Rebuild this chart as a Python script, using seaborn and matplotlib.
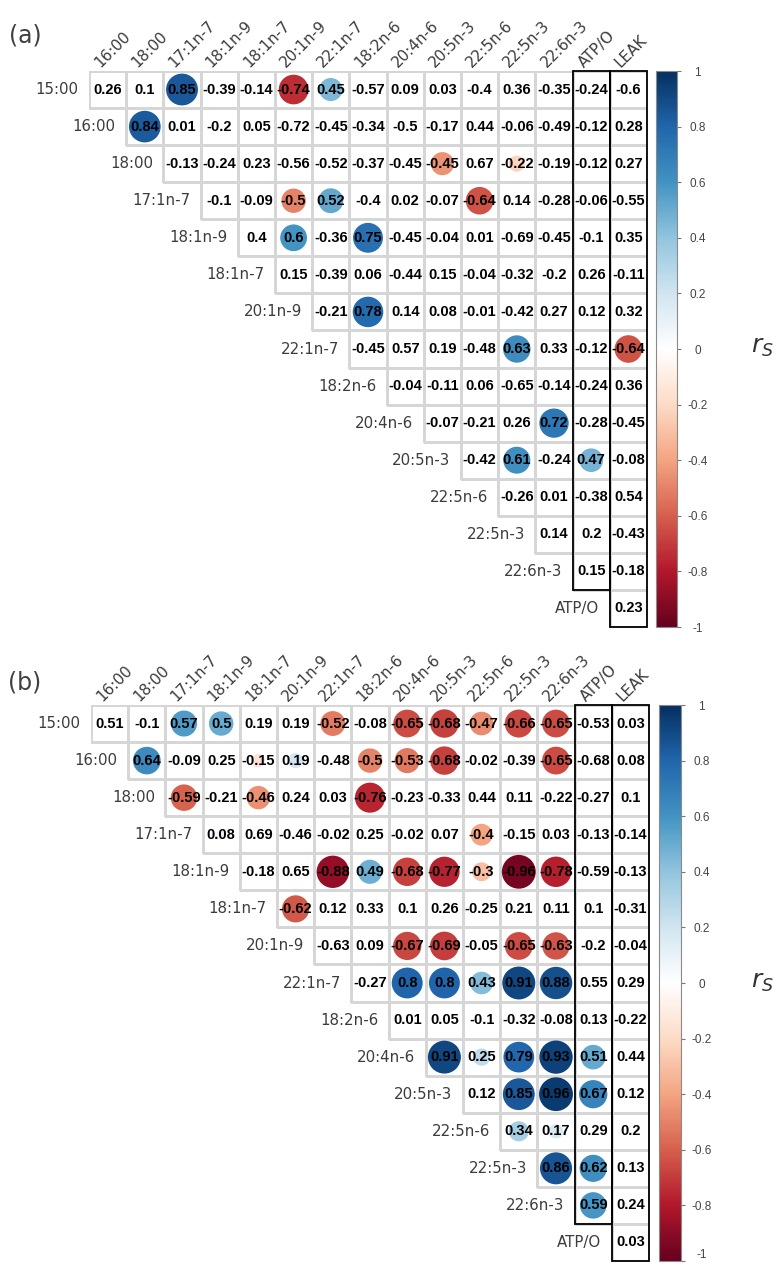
import numpy as np
import pandas as pd
import seaborn as sns
import matplotlib
matplotlib.use("Agg")
import matplotlib.pyplot as plt
from matplotlib.colors import LinearSegmentedColormap, ListedColormap, Normalize, to_rgba
from matplotlib.patches import Circle, Rectangle
from matplotlib.cm import ScalarMappable

# ---------------- data ----------------
row_labels = ["15:00", "16:00", "18:00", "17:1n-7", "18:1n-9", "18:1n-7", "20:1n-9",
              "22:1n-7", "18:2n-6", "20:4n-6", "20:5n-3", "22:5n-6", "22:5n-3",
              "22:6n-3", "ATP/O"]
col_labels = ["16:00", "18:00", "17:1n-7", "18:1n-9", "18:1n-7", "20:1n-9", "22:1n-7",
              "18:2n-6", "20:4n-6", "20:5n-3", "22:5n-6", "22:5n-3", "22:6n-3",
              "ATP/O", "LEAK"]
boxed_cols = ["ATP/O", "LEAK"]
cbar_ticks = [1, 0.8, 0.6, 0.4, 0.2, 0, -0.2, -0.4, -0.6, -0.8, -1]

# upper-triangle rows (row i starts at column i)
vals_a = [
    [0.26, 0.1, 0.85, -0.39, -0.14, -0.74, 0.45, -0.57, 0.09, 0.03, -0.4, 0.36, -0.35, -0.24, -0.6],
    [0.84, 0.01, -0.2, 0.05, -0.72, -0.45, -0.34, -0.5, -0.17, 0.44, -0.06, -0.49, -0.12, 0.28],
    [-0.13, -0.24, 0.23, -0.56, -0.52, -0.37, -0.45, -0.45, 0.67, -0.22, -0.19, -0.12, 0.27],
    [-0.1, -0.09, -0.5, 0.52, -0.4, 0.02, -0.07, -0.64, 0.14, -0.28, -0.06, -0.55],
    [0.4, 0.6, -0.36, 0.75, -0.45, -0.04, 0.01, -0.69, -0.45, -0.1, 0.35],
    [0.15, -0.39, 0.06, -0.44, 0.15, -0.04, -0.32, -0.2, 0.26, -0.11],
    [-0.21, 0.78, 0.14, 0.08, -0.01, -0.42, 0.27, 0.12, 0.32],
    [-0.45, 0.57, 0.19, -0.48, 0.63, 0.33, -0.12, -0.64],
    [-0.04, -0.11, 0.06, -0.65, -0.14, -0.24, 0.36],
    [-0.07, -0.21, 0.26, 0.72, -0.28, -0.45],
    [-0.42, 0.61, -0.24, 0.47, -0.08],
    [-0.26, 0.01, -0.38, 0.54],
    [0.14, 0.2, -0.43],
    [0.15, -0.18],
    [0.23],
]
sig_a = [
    ("15:00", "17:1n-7"), ("15:00", "20:1n-9"), ("15:00", "22:1n-7"),
    ("16:00", "18:00"),
    ("18:00", "20:5n-3"), ("18:00", "22:5n-3"),
    ("17:1n-7", "20:1n-9"), ("17:1n-7", "22:1n-7"), ("17:1n-7", "22:5n-6"),
    ("18:1n-9", "20:1n-9"), ("18:1n-9", "18:2n-6"),
    ("20:1n-9", "18:2n-6"),
    ("22:1n-7", "22:5n-3"), ("22:1n-7", "LEAK"),
    ("20:4n-6", "22:6n-3"),
    ("20:5n-3", "22:5n-3"), ("20:5n-3", "ATP/O"),
]

vals_b = [
    [0.51, -0.1, 0.57, 0.5, 0.19, 0.19, -0.52, -0.08, -0.65, -0.68, -0.47, -0.66, -0.65, -0.53, 0.03],
    [0.64, -0.09, 0.25, -0.15, 0.19, -0.48, -0.5, -0.53, -0.68, -0.02, -0.39, -0.65, -0.68, 0.08],
    [-0.59, -0.21, -0.46, 0.24, 0.03, -0.76, -0.23, -0.33, 0.44, 0.11, -0.22, -0.27, 0.1],
    [0.08, 0.69, -0.46, -0.02, 0.25, -0.02, 0.07, -0.4, -0.15, 0.03, -0.13, -0.14],
    [-0.18, 0.65, -0.88, 0.49, -0.68, -0.77, -0.3, -0.96, -0.78, -0.59, -0.13],
    [-0.62, 0.12, 0.33, 0.1, 0.26, -0.25, 0.21, 0.11, 0.1, -0.31],
    [-0.63, 0.09, -0.67, -0.69, -0.05, -0.65, -0.63, -0.2, -0.04],
    [-0.27, 0.8, 0.8, 0.43, 0.91, 0.88, 0.55, 0.29],
    [0.01, 0.05, -0.1, -0.32, -0.08, 0.13, -0.22],
    [0.91, 0.25, 0.79, 0.93, 0.51, 0.44],
    [0.12, 0.85, 0.96, 0.67, 0.12],
    [0.34, 0.17, 0.29, 0.2],
    [0.86, 0.62, 0.13],
    [0.59, 0.24],
    [0.03],
]
sig_b = [
    ("15:00", "17:1n-7"), ("15:00", "18:1n-9"), ("15:00", "22:1n-7"), ("15:00", "20:4n-6"),
    ("15:00", "20:5n-3"), ("15:00", "22:5n-6"), ("15:00", "22:5n-3"), ("15:00", "22:6n-3"),
    ("16:00", "18:00"), ("16:00", "18:1n-7"), ("16:00", "20:1n-9"), ("16:00", "18:2n-6"),
    ("16:00", "20:4n-6"), ("16:00", "20:5n-3"), ("16:00", "22:6n-3"),
    ("18:00", "17:1n-7"), ("18:00", "18:1n-7"), ("18:00", "18:2n-6"),
    ("17:1n-7", "18:1n-9"), ("17:1n-7", "22:5n-6"),
    ("18:1n-9", "22:1n-7"), ("18:1n-9", "18:2n-6"), ("18:1n-9", "20:4n-6"),
    ("18:1n-9", "20:5n-3"), ("18:1n-9", "22:5n-6"), ("18:1n-9", "22:5n-3"), ("18:1n-9", "22:6n-3"),
    ("18:1n-7", "20:1n-9"),
    ("20:1n-9", "20:4n-6"), ("20:1n-9", "20:5n-3"), ("20:1n-9", "22:5n-3"), ("20:1n-9", "22:6n-3"),
    ("22:1n-7", "20:4n-6"), ("22:1n-7", "20:5n-3"), ("22:1n-7", "22:5n-6"),
    ("22:1n-7", "22:5n-3"), ("22:1n-7", "22:6n-3"),
    ("20:4n-6", "20:5n-3"), ("20:4n-6", "22:5n-6"), ("20:4n-6", "22:5n-3"),
    ("20:4n-6", "22:6n-3"), ("20:4n-6", "ATP/O"),
    ("20:5n-3", "22:5n-3"), ("20:5n-3", "22:6n-3"), ("20:5n-3", "ATP/O"),
    ("22:5n-6", "22:5n-3"), ("22:5n-6", "22:6n-3"),
    ("22:5n-3", "22:6n-3"), ("22:5n-3", "ATP/O"),
    ("22:6n-3", "ATP/O"),
]

# ---------------- style ----------------
cmap = LinearSegmentedColormap.from_list(
    "corr_rdbu",
    ["#67001F", "#B2182B", "#D6604D", "#F4A582", "#FDDBC7", "#FFFFFF",
     "#D1E5F0", "#92C5DE", "#4393C3", "#2166AC", "#053061"], N=256)
norm = Normalize(vmin=-1, vmax=1)
LABEL_COLOR = "#3c3c3c"
GRID_COLOR = "#d6d6d6"
W, H = 776, 1265

fig = plt.figure(figsize=(W / 100, H / 100), dpi=100)


def fbox(x0, y0, x1, y1):
    return [x0 / W, 1 - y1 / H, (x1 - x0) / W, (y1 - y0) / H]


def draw_panel(ax, cax, vals, sig, tag, tag_xy, rs_xy, lift_last_tick=False):
    n = len(row_labels)
    M = np.full((n, len(col_labels)), np.nan)
    for i, row in enumerate(vals):
        M[i, i:i + len(row)] = row
    df = pd.DataFrame(M, index=row_labels, columns=col_labels)
    annot = np.where(np.isnan(M), "", np.vectorize(lambda v: f"{v:g}")(np.nan_to_num(M)))

    sns.heatmap(df, ax=ax, mask=df.isna(), cmap=ListedColormap(["white"]),
                cbar=False, linewidths=0.8, linecolor=GRID_COLOR,
                annot=annot, fmt="",
                annot_kws=dict(color="black", fontweight="bold", fontsize=10.5,
                               family="Liberation Sans"),
                xticklabels=False, yticklabels=False)
    # no cell borders for the empty (lower) triangle
    mesh = ax.collections[0]
    edge = [to_rgba(GRID_COLOR) if not np.isnan(v) else (0, 0, 0, 0) for v in M.ravel()]
    mesh.set_edgecolors(edge)
    ax.set_xlim(0, len(col_labels))
    ax.set_ylim(n, 0)

    # significance circles (area proportional to |r|)
    for rname, cname in sig:
        i = row_labels.index(rname)
        j = col_labels.index(cname)
        r = M[i, j]
        ax.add_patch(Circle((j + 0.5, i + 0.5), 0.465 * np.sqrt(abs(r)),
                            facecolor=cmap(norm(r)), edgecolor="none", zorder=2))

    # boxed columns
    for cname in boxed_cols:
        j = col_labels.index(cname)
        nrows = int(np.sum(~np.isnan(M[:, j])))
        ax.add_patch(Rectangle((j, 0), 1, nrows, fill=False, edgecolor="black",
                               linewidth=1.3, zorder=5, clip_on=False))

    # column labels (rotated, on top)
    for j, name in enumerate(col_labels):
        ax.text(j + 0.3, -0.08, name, rotation=45, rotation_mode="anchor",
                ha="left", va="baseline", fontsize=11, color=LABEL_COLOR,
                family="DejaVu Sans", clip_on=False)
    # row labels (left of the diagonal cell)
    for i, name in enumerate(row_labels):
        ax.text(i - 0.28, i + 0.5, name, ha="right", va="center", fontsize=10.8,
                color=LABEL_COLOR, family="DejaVu Sans", clip_on=False)

    # colorbar
    cb = fig.colorbar(ScalarMappable(norm=norm, cmap=cmap), cax=cax)
    cb.set_ticks(cbar_ticks)
    cb.set_ticklabels([f"{t + 0.0:g}" for t in cbar_ticks])
    cb.outline.set_edgecolor("#8a8a8a")
    cb.outline.set_linewidth(0.8)
    cax.tick_params(length=3, width=0.8, color="#777777", labelsize=8.5,
                    labelcolor="#444444", pad=12)
    for lab in cax.get_yticklabels():
        lab.set_ha("center")
        lab.set_family("Liberation Sans")
        if lift_last_tick and lab.get_text() == "-1":
            lab.set_va("bottom")

    fig.text(tag_xy[0] / W, 1 - tag_xy[1] / H, tag, fontsize=17, color="#404040",
             ha="left", va="top")
    fig.text(rs_xy[0] / W, 1 - rs_xy[1] / H, r"$r_S$", fontsize=18, color="#333333",
             ha="center", va="center")


ax_a = fig.add_axes(fbox(89, 71, 647, 627))
cax_a = fig.add_axes(fbox(656, 71, 677, 627))
draw_panel(ax_a, cax_a, vals_a, sig_a, "(a)", (9, 24), (762, 347))

ax_b = fig.add_axes(fbox(91, 705, 649, 1261))
cax_b = fig.add_axes(fbox(659, 705, 681, 1261))
draw_panel(ax_b, cax_b, vals_b, sig_b, "(b)", (8, 670), (762, 982), lift_last_tick=True)

fig.savefig("out.png", dpi=100)
